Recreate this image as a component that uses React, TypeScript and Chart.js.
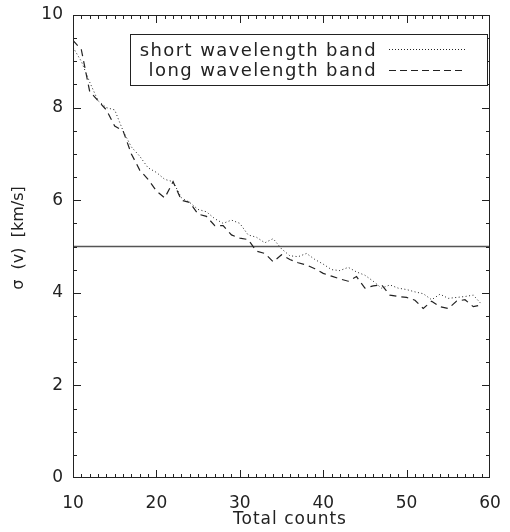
import React, { useEffect, useRef } from "react";
import { Chart, registerables } from "chart.js";

Chart.register(...registerables);

const counts = [
  10, 11, 12, 13, 14, 15, 16, 17, 18, 19,
  20, 21, 22, 23, 24, 25, 26, 27, 28, 29,
  30, 31, 32, 33, 34, 35, 36, 37, 38, 39,
  40, 41, 42, 43, 44, 45, 46, 47, 48, 49,
  50, 51, 52, 53, 54, 55, 56, 57, 58, 59,
];

const shortBand = [
  9.3, 9.0, 8.55, 8.15, 8.0, 7.95, 7.5, 7.15, 6.95, 6.7,
  6.6, 6.45, 6.4, 6.05, 5.95, 5.8, 5.75, 5.6, 5.5, 5.57,
  5.5, 5.25, 5.2, 5.08, 5.17, 4.95, 4.8, 4.78, 4.85, 4.72,
  4.62, 4.5, 4.48, 4.55, 4.45, 4.38, 4.25, 4.1, 4.17, 4.1,
  4.07, 4.02, 3.98, 3.85, 3.97, 3.88, 3.9, 3.92, 3.95, 3.75,
];

const longBand = [
  9.45, 9.25, 8.35, 8.15, 7.95, 7.6, 7.5, 7.0, 6.65, 6.45,
  6.2, 6.05, 6.4, 6.0, 5.95, 5.7, 5.65, 5.45, 5.45, 5.25,
  5.18, 5.15, 4.9, 4.85, 4.67, 4.82, 4.72, 4.65, 4.6, 4.52,
  4.42, 4.36, 4.3, 4.25, 4.35, 4.1, 4.15, 4.17, 3.95, 3.92,
  3.9, 3.84, 3.66, 3.82, 3.7, 3.66, 3.82, 3.85, 3.7, 3.74,
];

const thresholdX = [10, 60];
const thresholdY = [5, 5];

const legendLabels = ["short wavelength band", "long wavelength band"];
const xTitle = "Total counts";
const yTitle = "\u03c3  (v)  [km/s]";

const INK = "#222";
const FONT = "'DejaVu Sans', sans-serif";

const AREA = { left: 73, top: 15, right: 490, bottom: 478 };
const CW = 510;
const CH = 532;

const fixedLayoutPlugin = {
  id: "fixedLayout",
  afterLayout(chart: any) {
    const { left, top, right, bottom } = AREA;
    chart.chartArea.left = left;
    chart.chartArea.top = top;
    chart.chartArea.right = right;
    chart.chartArea.bottom = bottom;
    chart.chartArea.width = right - left;
    chart.chartArea.height = bottom - top;
    const x = chart.scales.x;
    x.left = left;
    x.right = right;
    x.top = bottom;
    x.bottom = CH;
    x.width = right - left;
    x.height = CH - bottom;
    x.configure();
    const y = chart.scales.y;
    y.left = 0;
    y.right = left;
    y.top = top;
    y.bottom = bottom;
    y.width = left;
    y.height = bottom - top;
    y.configure();
  },
};

const framePlugin = {
  id: "idlFrame",
  afterDatasetsDraw(chart: any) {
    const { ctx, chartArea, scales } = chart;
    const { left, right, top, bottom } = chartArea;
    const xs = scales.x;
    const ys = scales.y;
    ctx.save();
    ctx.fillStyle = INK;
    const L = Math.round(left);
    const R = Math.round(right) - 1;
    const T = Math.round(top);
    const B = Math.round(bottom) - 1;
    // frame as filled 1px bars (all four sides)
    ctx.fillRect(L, T, R - L + 1, 1);
    ctx.fillRect(L, B, R - L + 1, 1);
    ctx.fillRect(L, T, 1, B - T + 1);
    ctx.fillRect(R, T, 1, B - T + 1);
    // x ticks, inward, top and bottom
    for (let v = 10; v <= 60; v += 1) {
      const px = Math.min(R, Math.round(xs.getPixelForValue(v)));
      const len = v % 10 === 0 ? 8 : 4;
      ctx.fillRect(px, B - len + 1, 1, len);
      ctx.fillRect(px, T, 1, len);
    }
    // y ticks, inward, left and right
    for (let i = 0; i <= 20; i++) {
      const v = i * 0.5;
      const py = Math.min(B, Math.round(ys.getPixelForValue(v)));
      const len = i % 4 === 0 ? 8 : 4;
      ctx.fillRect(L, py, len, 1);
      ctx.fillRect(R - len + 1, py, len, 1);
    }

    // axis titles
    ctx.fillStyle = INK;
    ctx.textAlign = "center";
    ctx.textBaseline = "middle";
    ctx.font = `17px ${FONT}`;
    try {
      (ctx as any).letterSpacing = "1px";
    } catch (e) {}
    ctx.fillText(xTitle, 290, 520);
    try {
      (ctx as any).letterSpacing = "0px";
    } catch (e) {}
    ctx.font = `16px ${FONT}`;
    ctx.save();
    ctx.translate(19, 238);
    ctx.rotate(-Math.PI / 2);
    ctx.fillText(yTitle, 0, 0);
    ctx.restore();

    // legend box
    ctx.strokeStyle = INK;
    ctx.lineWidth = 1;
    const bx0 = 130.5, by0 = 34.5, bx1 = 487.5, by1 = 85.5;
    ctx.fillStyle = "#fff";
    ctx.fillRect(bx0, by0, bx1 - bx0, by1 - by0);
    ctx.strokeRect(bx0, by0, bx1 - bx0, by1 - by0);
    ctx.fillStyle = INK;
    ctx.font = `18px ${FONT}`;
    try {
      (ctx as any).letterSpacing = "1.4px";
    } catch (e) {}
    ctx.textAlign = "right";
    ctx.textBaseline = "alphabetic";
    ctx.fillText(legendLabels[0], 377, 56);
    ctx.fillText(legendLabels[1], 377, 76);
    try {
      (ctx as any).letterSpacing = "0px";
    } catch (e) {}
    ctx.setLineDash([1, 2]);
    ctx.beginPath();
    ctx.moveTo(389, 49.5);
    ctx.lineTo(465, 49.5);
    ctx.stroke();
    ctx.setLineDash([7, 4]);
    ctx.beginPath();
    ctx.moveTo(389, 70.5);
    ctx.lineTo(466, 70.5);
    ctx.stroke();
    ctx.setLineDash([]);
    ctx.restore();
  },
};

export default function App() {
  const ref = useRef<HTMLCanvasElement | null>(null);

  useEffect(() => {
    const canvas = ref.current;
    if (!canvas) return;
    const chart = new Chart(canvas, {
      type: "line",
      data: {
        datasets: [
          {
            label: legendLabels[0],
            data: counts.map((c, i) => ({ x: c, y: shortBand[i] })),
            borderColor: INK,
            borderWidth: 1,
            borderDash: [1, 2.5],
            pointRadius: 0,
            tension: 0,
          },
          {
            label: legendLabels[1],
            data: counts.map((c, i) => ({ x: c, y: longBand[i] })),
            borderColor: INK,
            borderWidth: 1.2,
            borderDash: [7, 5],
            pointRadius: 0,
            tension: 0,
          },
          {
            label: "threshold",
            data: thresholdX.map((c, i) => ({ x: c, y: thresholdY[i] })),
            borderColor: "#555",
            borderWidth: 1.5,
            pointRadius: 0,
          },
        ],
      },
      options: {
        animation: false,
        responsive: false,
        maintainAspectRatio: false,
        layout: { padding: { top: 15, right: 20, left: 0, bottom: 0 } },
        plugins: {
          legend: { display: false },
          tooltip: { enabled: false },
        },
        scales: {
          x: {
            type: "linear",
            min: 10,
            max: 60,
            grid: { display: false, drawTicks: false },
            border: { display: false },
            ticks: {
              stepSize: 10,
              padding: 15,
              color: INK,
              font: { family: FONT, size: 17 },
              maxRotation: 0,
            },
            title: { display: false },
          },
          y: {
            type: "linear",
            min: 0,
            max: 10,
            grid: { display: false, drawTicks: false },
            border: { display: false },
            ticks: {
              stepSize: 2,
              padding: 10,
              color: INK,
              font: { family: FONT, size: 17 },
            },
            title: { display: false },
          },
        },
      },
      plugins: [fixedLayoutPlugin, framePlugin],
    });
    return () => chart.destroy();
  }, []);

  return (
    <div style={{ position: "absolute", left: 0, top: 0, width: CW, height: CH, background: "#fff" }}>
      <canvas ref={ref} width={CW} height={CH} style={{ width: CW, height: CH, display: "block" }} />
    </div>
  );
}
